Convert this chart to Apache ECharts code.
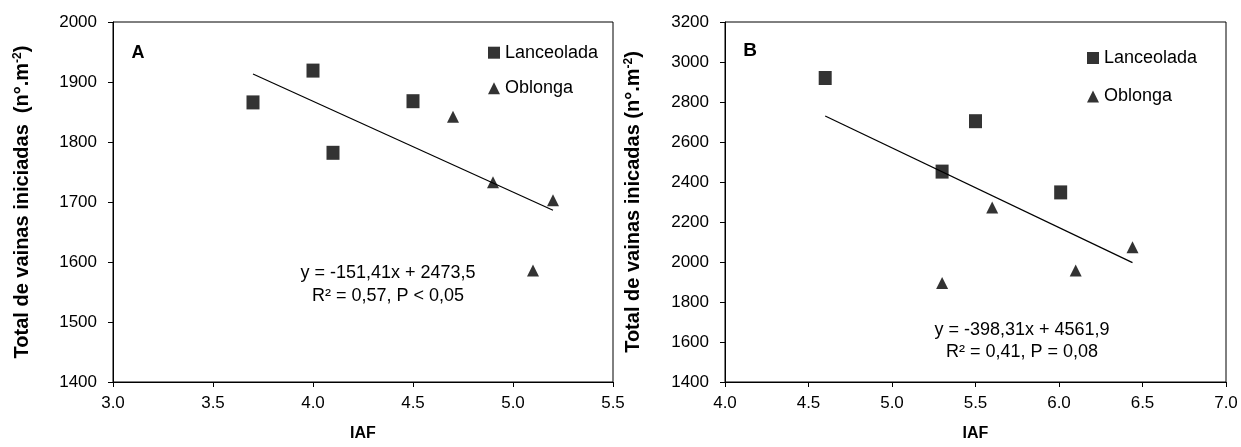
<!DOCTYPE html>
<html>
<head>
<meta charset="utf-8">
<script src="https://cdn.jsdelivr.net/npm/echarts@6/dist/echarts.min.js"></script>
<style>
  html, body { margin: 0; padding: 0; background: #fff; }
  #main { width: 1241px; height: 447px; }
</style>
</head>
<body>
<div id="main"></div>
<script>
// Panel A
const iafLancA = [3.7, 4.0, 4.1, 4.5]
const vainasLancA = [1866, 1919, 1782, 1868]
const iafOblA = [4.7, 4.9, 5.1, 5.2]
const vainasOblA = [1842, 1733, 1586, 1703]
const trendIafA = [3.7, 5.2]
const trendVainasA = [1913.3, 1686.2]
const eqA = ['y = -151,41x + 2473,5', 'R² = 0,57, P < 0,05']

// Panel B
const iafLancB = [4.6, 5.3, 5.5, 6.01]
const vainasLancB = [2920, 2452, 2704, 2348]
const iafOblB = [5.3, 5.6, 6.1, 6.44]
const vainasOblB = [1895, 2273, 1958, 2074]
const trendIafB = [4.6, 6.44]
const trendVainasB = [2729.7, 1996.8]
const eqB = ['y = -398,31x + 4561,9', 'R² = 0,41, P = 0,08']

const seriesNames = ['Lanceolada', 'Oblonga']
const yTitleA = 'Total de vainas iniciadas  (n°.m{sup|-2})'
const yTitleB = 'Total de vainas inicadas (n°.m{sup|-2})'

const FONT = "'Liberation Sans', Arial, sans-serif"
const zip = (xs, ys) => xs.map((x, i) => [x, ys[i]])

const chart = echarts.init(document.getElementById('main'))

const xAxisBase = (gridIndex, min, max) => ({
  type: 'value',
  gridIndex,
  min,
  max,
  interval: 0.5,
  name: 'IAF',
  nameLocation: 'middle',
  nameGap: 44,
  nameTextStyle: { color: '#000', fontSize: 16, fontWeight: 'bold', fontFamily: FONT },
  axisLine: { lineStyle: { color: '#000', width: 1 } },
  axisTick: { length: 5, lineStyle: { color: '#000' } },
  axisLabel: { color: '#000', fontSize: 17, fontFamily: FONT, margin: 13, formatter: v => v.toFixed(1) },
  splitLine: { show: false }
})

const yAxisBase = (gridIndex, min, max, interval, title, gap) => ({
  type: 'value',
  gridIndex,
  min,
  max,
  interval,
  name: title,
  nameLocation: 'middle',
  nameGap: gap,
  nameTextStyle: {
    color: '#000', fontSize: 20, fontWeight: 'bold', fontFamily: FONT,
    rich: { sup: { fontSize: 12, fontWeight: 'bold', fontFamily: FONT, verticalAlign: 'top', padding: [0, 0, 9, 0] } }
  },
  axisLine: { show: true, lineStyle: { color: '#000', width: 1 } },
  axisTick: { show: true, length: 5, lineStyle: { color: '#000' } },
  axisLabel: { color: '#000', fontSize: 17, fontFamily: FONT, margin: 16, formatter: v => String(v) },
  splitLine: { show: false }
})

const legendBase = (left, top, itemGap) => ({
  left,
  top,
  padding: 0,
  orient: 'vertical',
  itemGap,
  itemWidth: 12,
  itemHeight: 12,
  selectedMode: false,
  textStyle: { color: '#000', fontSize: 18, fontFamily: FONT },
  data: [
    { name: seriesNames[0], icon: 'rect' },
    { name: seriesNames[1], icon: 'triangle' }
  ]
})

const scatter = (name, symbol, size, idx, data) => ({
  name,
  type: 'scatter',
  xAxisIndex: idx,
  yAxisIndex: idx,
  symbol,
  symbolSize: size,
  itemStyle: { color: '#000' },
  data
})

const trend = (idx, data) => ({
  type: 'line',
  xAxisIndex: idx,
  yAxisIndex: idx,
  symbol: 'none',
  lineStyle: { color: '#000', width: 1.2 },
  data
})

const label = (text, x, y, size, bold) => ({
  type: 'text',
  x,
  y,
  style: {
    text,
    fill: '#000',
    font: (bold ? 'bold ' : '') + size + 'px ' + FONT,
    textAlign: 'center',
    textVerticalAlign: 'middle'
  }
})

const option = {
  animation: false,
  backgroundColor: '#fff',
  grid: [
    { left: 113, top: 22, width: 500, height: 362.7, show: true, borderColor: '#000', borderWidth: 1 },
    { left: 725, top: 22, width: 501, height: 362.7, show: true, borderColor: '#000', borderWidth: 1 }
  ],
  xAxis: [xAxisBase(0, 3, 5.5), xAxisBase(1, 4, 7)],
  yAxis: [
    yAxisBase(0, 1400, 2000, 100, yTitleA, 80),
    yAxisBase(1, 1400, 3200, 200, yTitleB, 81)
  ],
  legend: [legendBase(488, 43.7, 17.6), legendBase(1087, 49, 20.5)],
  series: [
    trend(0, zip(trendIafA, trendVainasA)),
    scatter(seriesNames[0], 'rect', [13, 14], 0, zip(iafLancA, vainasLancA)),
    scatter(seriesNames[1], 'triangle', [12, 12], 0, zip(iafOblA, vainasOblA)),
    trend(1, zip(trendIafB, trendVainasB)),
    scatter(seriesNames[0], 'rect', [13, 14], 1, zip(iafLancB, vainasLancB)),
    scatter(seriesNames[1], 'triangle', [12, 12], 1, zip(iafOblB, vainasOblB))
  ],
  graphic: [
    label('A', 138, 53, 18, true),
    label('B', 750, 51, 19, true),
    label(eqA[0], 388, 273, 18),
    label(eqA[1], 388, 296, 18),
    label(eqB[0], 1022, 330, 18),
    label(eqB[1], 1022, 352, 18)
  ]
}

chart.setOption(option)
</script>
</body>
</html>
